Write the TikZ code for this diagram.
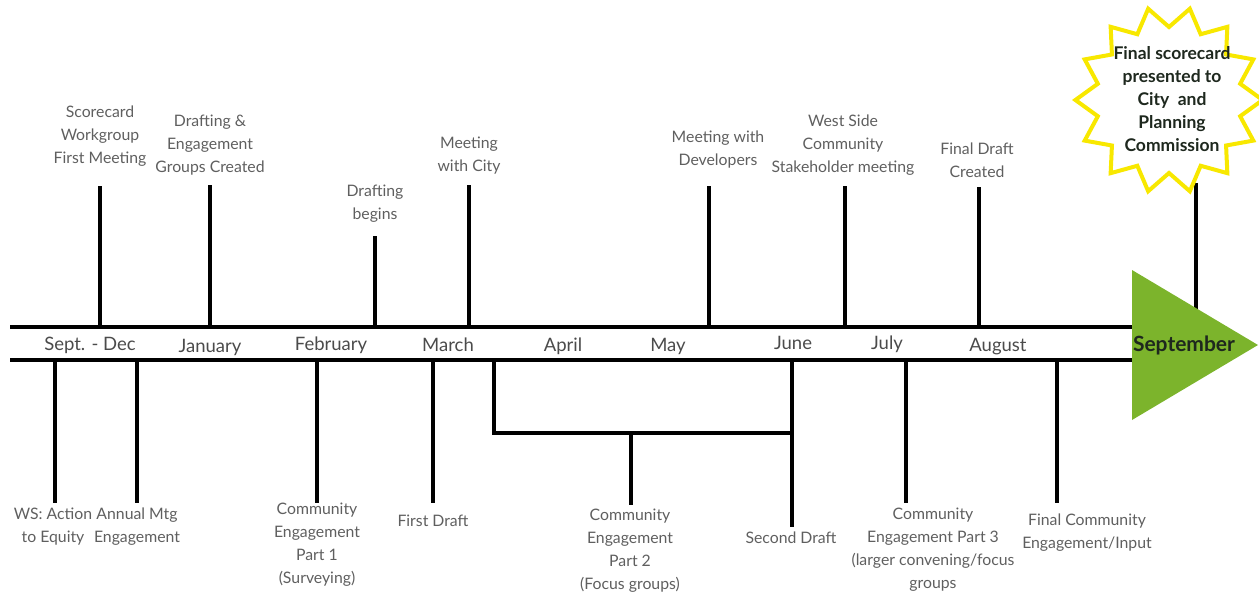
\documentclass[tikz,border=0pt]{standalone}
\usepackage{fontspec}
\setmainfont{Lato}
\usetikzlibrary{shapes.geometric}
\definecolor{txt}{RGB}{95,95,95}
\definecolor{mon}{RGB}{75,75,75}
\definecolor{grn}{RGB}{124,180,44}
\definecolor{ylw}{RGB}{248,232,0}
\definecolor{dark}{RGB}{30,40,30}
\begin{document}
\begin{tikzpicture}[x=1pt,y=-1pt,
  tick/.style={line width=4pt},
  lab/.style={align=center, text=txt, font=\fontsize{15.8}{23}\selectfont, inner sep=0pt},
  month/.style={text=mon, font=\fontsize{18.5}{20}\selectfont, inner sep=0pt},
  boldlab/.style={align=center, text=dark, font=\bfseries\fontsize{17.5}{23.2}\selectfont, inner sep=0pt}]
\useasboundingbox (0,0) rectangle (1259,602);
% main timeline
\coordinate (la) at (10,327); \coordinate (ra) at (1140,327);
\coordinate (lb) at (10,360); \coordinate (rb) at (1140,360);
\draw[tick] (la) -- (ra);
\draw[tick] (lb) -- (rb);
% top labels
\node[lab] (t1) at (100,136) {Scorecard\\Workgroup\\First Meeting};
\node[lab] (t2) at (210,145) {Drafting \&\\Engagement\\Groups Created};
\node[lab] (t3) at (375,204) {Drafting\\begins};
\node[lab] (t4) at (469,156) {Meeting\\with City};
\node[lab] (t5) at (718,150) {Meeting with\\Developers};
\node[lab] (t6) at (843,145) {West Side\\Community\\Stakeholder meeting};
\node[lab] (t7) at (977,160) {Final Draft\\Created};
% top ticks
\foreach \n/\x/\y in {1/100/186, 2/210/185, 3/375/236, 4/469/185, 5/709/186, 6/845/186, 7/979/187, 8/1196/183}{
  \coordinate (tu\n) at (\x,\y);
  \coordinate (td\n) at (\x,327);
  \draw[tick] (tu\n) -- (td\n);
}
% bottom ticks
\foreach \n/\x/\y in {1/55/503, 2/137/503, 3/317/503, 4/433/503, 5/906/503, 6/1057/503}{
  \coordinate (bu\n) at (\x,360);
  \coordinate (bd\n) at (\x,\y);
  \draw[tick] (bu\n) -- (bd\n);
}
% bracket for part 2
\coordinate (ba) at (494,360); \coordinate (bb) at (494,433);
\coordinate (bc) at (792,360); \coordinate (bd) at (792,527);
\coordinate (bm) at (631,433); \coordinate (bn) at (631,505);
\draw[tick] (ba) -- (bb) -- (bb -| bc);
\draw[tick] (bc) -- (bd);
\draw[tick] (bm) -- (bn);
% bottom labels
\node[lab] (b1) at (53,527) {WS: Action\\to Equity};
\node[lab] (b2) at (137,527) {Annual Mtg\\Engagement};
\node[lab] (b3) at (317,545) {Community\\Engagement\\Part 1\\(Surveying)};
\node[lab] (b4) at (433,521) {First Draft};
\node[lab] (b5) at (630,551) {Community\\Engagement\\Part 2\\(Focus groups)};
\node[lab] (b6) at (791,538) {Second Draft};
\node[lab] (b7) at (933,550) {Community\\Engagement Part 3\\(larger convening/focus\\groups};
\node[lab] (b8) at (1087,533) {Final Community\\Engagement/Input};
% months
\node[month] (m1) at (90,345) {Sept. - Dec};
\node[month] (m2) at (210,347) {January};
\node[month] (m3) at (331,345) {February};
\node[month] (m4) at (448,345) {March};
\node[month] (m5) at (563,346) {April};
\node[month] (m6) at (668,346) {May};
\node[month] (m7) at (793,343) {June};
\node[month] (m8) at (887,344) {July};
\node[month] (m9) at (998,347) {August};
% arrow head
\fill[grn] (1132,270) -- (1258,345) -- (1132,420) -- cycle;
\node[text=dark, font=\bfseries\fontsize{21}{22}\selectfont, inner sep=0pt] (sep) at (1184,345) {September};
% star
\node[star, star points=14, star point ratio=0.78, minimum size=146pt, draw=ylw, line width=4pt, fill=white, inner sep=0pt, outer sep=0pt] (star) at (1169,100) {};
\node[boldlab] (st) at (1172,99) {Final scorecard\\presented to\\City~ and\\Planning\\Commission};
\end{tikzpicture}
\end{document}
